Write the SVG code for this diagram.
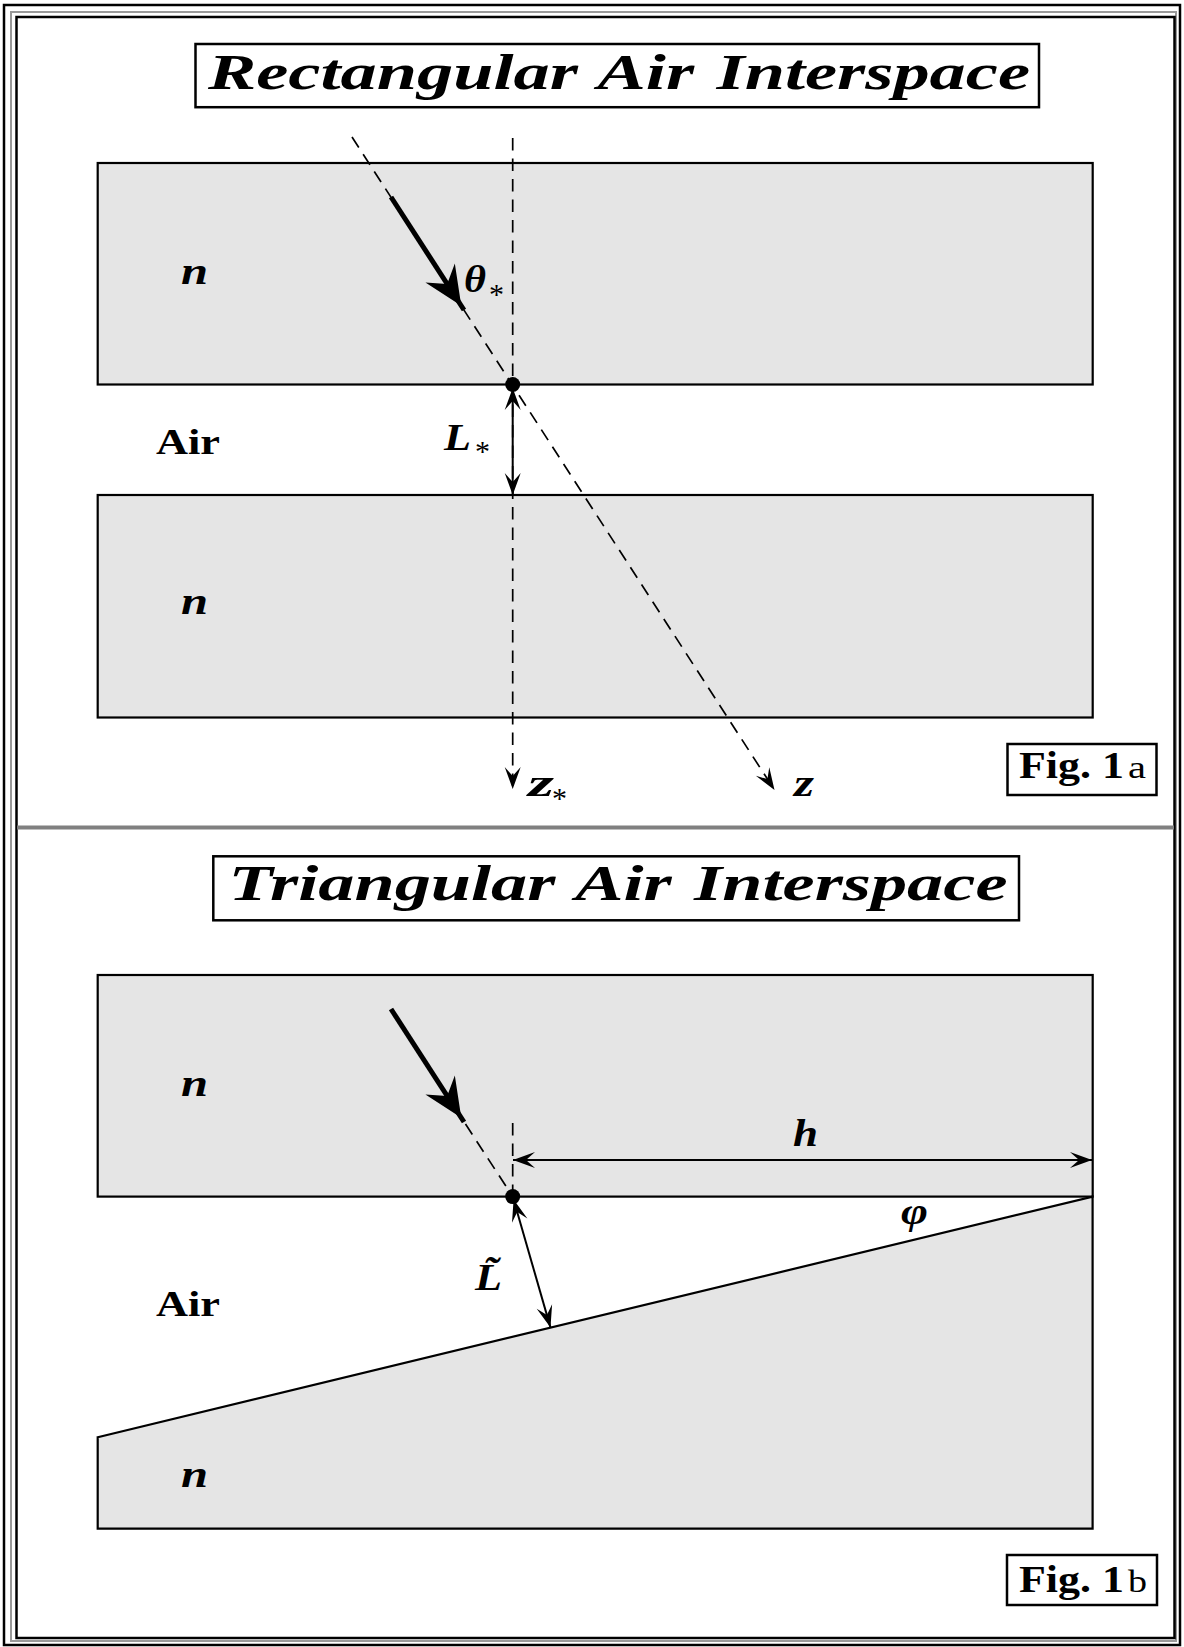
<svg xmlns="http://www.w3.org/2000/svg" width="1184" height="1647" viewBox="0 0 1184 1647">
<style>
.frame{fill:none;stroke:#000;stroke-width:2.5}
.glass{fill:#e5e5e5;stroke:#000;stroke-width:2.2}
.box{fill:#fff;stroke:#000;stroke-width:2.5}
.dash{fill:none;stroke:#000;stroke-width:1.7;stroke-dasharray:12.5 8}
.thin{fill:none;stroke:#000;stroke-width:2}
.bold{fill:none;stroke:#000;stroke-width:5}
.title{font-family:"Liberation Serif",serif;font-weight:bold;font-style:italic;font-size:50px;word-spacing:3px}
.m{font-family:"Liberation Serif",serif;font-weight:bold;font-style:italic;font-size:37px}
.star{font-family:"Liberation Serif",serif;font-size:30px}
.air{font-family:"Liberation Serif",serif;font-weight:bold;font-size:36px}
.fig{font-family:"Liberation Serif",serif;font-weight:bold;font-size:38px}
.sub{font-family:"Liberation Serif",serif;font-size:32px}
</style>
<defs>
<marker id="ah" markerUnits="userSpaceOnUse" orient="auto-start-reverse" overflow="visible" refX="0" refY="0" markerWidth="1" markerHeight="1">
<path d="M0,0 L-22,-8 L-13,0 L-22,8 Z" fill="#000"/>
</marker>
<marker id="bah" markerUnits="userSpaceOnUse" orient="auto" overflow="visible" refX="5" refY="0" markerWidth="1" markerHeight="1">
<path d="M0,0 L-39,-17.5 L-26,0 L-39,17.5 Z" fill="#000"/>
</marker>
</defs>
<rect width="1184" height="1647" fill="#fff"/>
<g id="frame">
<rect class="frame" x="4" y="5" width="1176" height="1640"/>
<rect x="11" y="12" width="1165" height="1629" fill="none" stroke="#999" stroke-width="2"/>
<rect class="frame" x="16.5" y="17" width="1158" height="1621"/>
<line x1="17" y1="827.5" x2="1174" y2="827.5" stroke="#808080" stroke-width="4"/>
</g>

<!-- Panel 1 -->
<g id="title1">
<rect class="box" x="195.5" y="44" width="843.5" height="63.2"/>
<text class="title" x="619" y="88.5" text-anchor="middle" textLength="822" lengthAdjust="spacingAndGlyphs">Rectangular Air Interspace</text>
</g>
<g id="glass1-top">
<rect class="glass" x="97.7" y="163" width="995" height="221.5"/>
<text class="m" x="181" y="283.5" textLength="27" lengthAdjust="spacingAndGlyphs">n</text>
</g>
<g id="glass1-bottom">
<rect class="glass" x="97.7" y="495" width="995" height="222.5"/>
<text class="m" x="181" y="614" textLength="27" lengthAdjust="spacingAndGlyphs">n</text>
</g>
<g id="air1">
<text class="air" x="156" y="453.5" textLength="64" lengthAdjust="spacingAndGlyphs">Air</text>
</g>
<g id="connectors1">
<line class="dash" x1="512.7" y1="138" x2="512.7" y2="789" marker-end="url(#ah)"/>
<line class="dash" x1="352" y1="137" x2="774.5" y2="790" marker-end="url(#ah)"/>
<line class="bold" x1="391" y1="197" x2="464" y2="310" marker-end="url(#bah)"/>
<line class="thin" x1="512.7" y1="388" x2="512.7" y2="495" marker-start="url(#ah)" marker-end="url(#ah)"/>
<circle cx="512.7" cy="384.5" r="7.5" fill="#000"/>
</g>
<g id="labels1">
<text class="m" x="464" y="291.5" font-size="37" textLength="22" lengthAdjust="spacingAndGlyphs">θ</text>
<text class="star" x="489" y="304">*</text>
<text class="m" x="444" y="450" font-size="35" textLength="27" lengthAdjust="spacingAndGlyphs">L</text>
<text class="star" x="475" y="461">*</text>
<text class="m" x="528" y="795.5" textLength="26" lengthAdjust="spacingAndGlyphs">z</text>
<text class="star" x="552" y="808">*</text>
<text class="m" x="794" y="795.5" textLength="20" lengthAdjust="spacingAndGlyphs">z</text>
</g>
<g id="fig1a">
<rect class="box" x="1007.5" y="744" width="149" height="51"/>
<text class="fig" x="1019" y="778" textLength="105" lengthAdjust="spacingAndGlyphs">Fig. 1</text>
<text class="sub" x="1128" y="778" textLength="18" lengthAdjust="spacingAndGlyphs">a</text>
</g>

<!-- Panel 2 -->
<g id="title2">
<rect class="box" x="213.3" y="856.3" width="805.7" height="64"/>
<text class="title" x="618" y="900" text-anchor="middle" textLength="779" lengthAdjust="spacingAndGlyphs">Triangular Air Interspace</text>
</g>
<g id="glass2-top">
<rect class="glass" x="97.7" y="975" width="995" height="221.6"/>
<text class="m" x="181" y="1095.5" textLength="27" lengthAdjust="spacingAndGlyphs">n</text>
</g>
<g id="glass2-wedge">
<polygon class="glass" points="97.7,1437.2 1092.6,1196.6 1092.6,1528.6 97.7,1528.6"/>
<text class="m" x="181" y="1486.5" textLength="27" lengthAdjust="spacingAndGlyphs">n</text>
</g>
<g id="air2">
<text class="air" x="156" y="1316" textLength="64" lengthAdjust="spacingAndGlyphs">Air</text>
</g>
<g id="connectors2">
<line class="dash" x1="512.7" y1="1123" x2="512.7" y2="1196"/>
<line class="dash" x1="465.5" y1="1124" x2="512.7" y2="1196.6"/>
<line class="bold" x1="391" y1="1009" x2="464" y2="1122" marker-end="url(#bah)"/>
<line class="thin" x1="513" y1="1160" x2="1092" y2="1160" marker-start="url(#ah)" marker-end="url(#ah)"/>
<line class="thin" x1="513.6" y1="1199.5" x2="550.5" y2="1327.6" marker-start="url(#ah)" marker-end="url(#ah)"/>
<circle cx="512.7" cy="1196.6" r="7.5" fill="#000"/>
</g>
<g id="labels2">
<text class="m" x="793" y="1146" font-size="37" textLength="25" lengthAdjust="spacingAndGlyphs">h</text>
<text class="m" x="901" y="1224" font-size="40" textLength="27" lengthAdjust="spacingAndGlyphs">φ</text>
<text class="m" x="475" y="1290" font-size="36" textLength="27" lengthAdjust="spacingAndGlyphs">L&#x303;</text>
</g>
<g id="fig1b">
<rect class="box" x="1007" y="1555" width="150" height="50"/>
<text class="fig" x="1019" y="1591.5" textLength="105" lengthAdjust="spacingAndGlyphs">Fig. 1</text>
<text class="sub" x="1128" y="1591.5" textLength="19" lengthAdjust="spacingAndGlyphs">b</text>
</g>
</svg>
